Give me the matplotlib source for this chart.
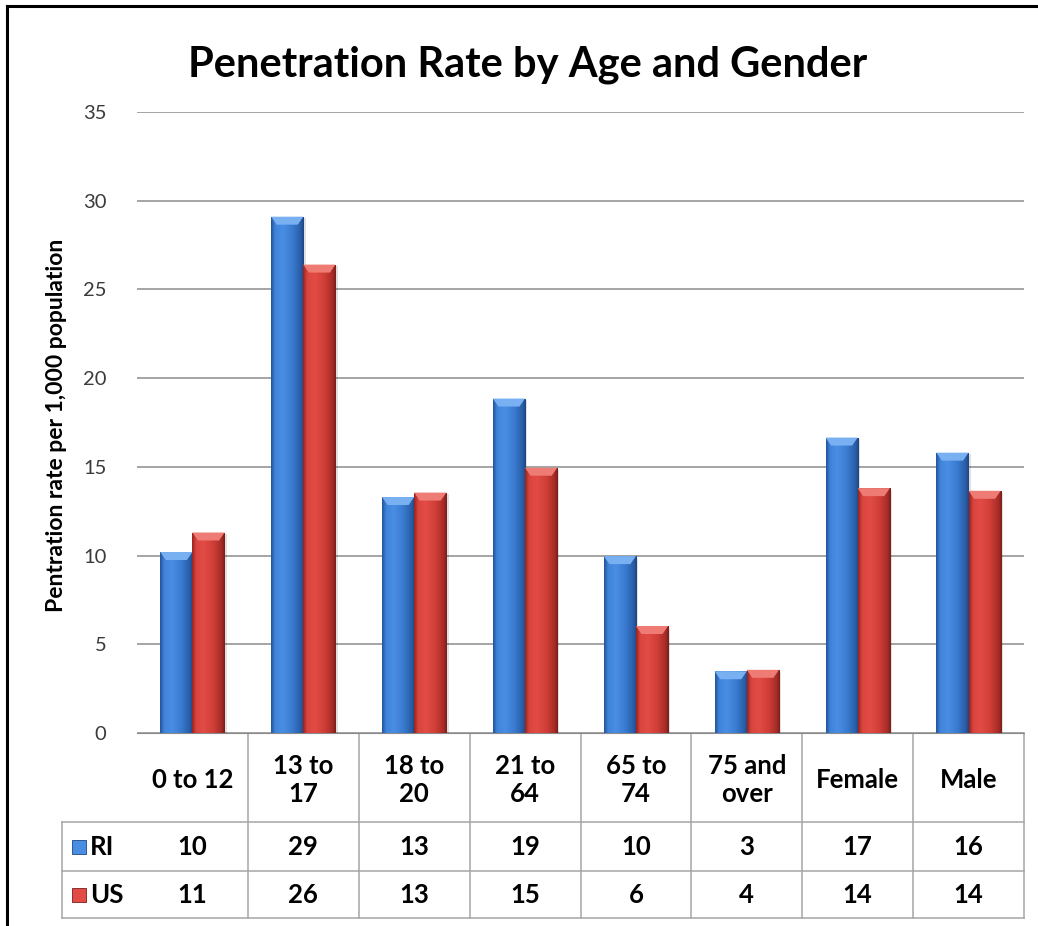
import numpy as np
import matplotlib
matplotlib.use('Agg')
import matplotlib.pyplot as plt
from matplotlib.patches import Polygon, Rectangle
from matplotlib.colors import to_rgb
import matplotlib.transforms as mtransforms

plt.rcParams['font.family'] = ['Lato', 'DejaVu Sans']

# data
categories = ['0 to 12', '13 to\n17', '18 to\n20', '21 to\n64', '65 to\n74', '75 and\nover', 'Female', 'Male']
ri_values = [10.2, 29.1, 13.3, 18.85, 9.97, 3.48, 16.65, 15.8]
us_values = [11.3, 26.4, 13.55, 14.95, 6.03, 3.56, 13.8, 13.65]
ri_table = ['10', '29', '13', '19', '10', '3', '17', '16']
us_table = ['11', '26', '13', '15', '6', '4', '14', '14']

W, H = 1038, 926
fig = plt.figure(figsize=(W / 100, H / 100), dpi=100)

# plot area in pixels
L, R, T, B = 137, 1024, 112, 733
ax = fig.add_axes([L / W, (H - B) / H, (R - L) / W, (B - T) / H])
ax.set_yticks(range(0, 36, 5))
ax.tick_params(axis='y', length=0, pad=22, labelsize=14.5, labelcolor='#3a3a3a')
ax.set_xticks([])
for s in ['top', 'right', 'left']:
    ax.spines[s].set_visible(False)
ax.spines['bottom'].set_color('#8a8a8a')
ax.yaxis.grid(True, color='#8c8c8c', linewidth=1.1)
ax.set_axisbelow(True)

fig.text(57 / W, (H - 425) / H, 'Pentration rate per 1,000 population', rotation=90,
         ha='center', va='center', fontsize=16.5, fontweight='bold')
fig.text(528 / W, (H - 76) / H, 'Penetration Rate by Age and Gender', ha='center',
         va='baseline', fontsize=30, fontweight='bold')

palettes = {
    'RI': ['#24549a', '#3f84da', '#4a8ee4', '#3a7bd0', '#2a5ea8', '#1f4580'],
    'US': ['#9a2420', '#d8443e', '#e24c45', '#d03e38', '#a82c28', '#7a1e1a'],
}
bevel = {'RI': '#78b0f2', 'US': '#ee7c74'}

x = np.arange(len(categories))
bw = 0.29
for name, vals, off in [('RI', ri_values, -0.145), ('US', us_values, 0.145)]:
    bars = ax.bar(x + off, vals, width=bw, color=palettes[name][2], zorder=3, linewidth=0)
    stops = np.array([to_rgb(c) for c in palettes[name]])
    pos = np.array([0, 0.12, 0.35, 0.65, 0.9, 1.0])
    t = np.linspace(0, 1, 64)
    grad = np.stack([np.interp(t, pos, stops[:, k]) for k in range(3)], axis=-1)[None, :, :]
    for b in bars:
        x0, w, h = b.get_x(), b.get_width(), b.get_height()
        # soft shadow
        ax.add_patch(Rectangle((x0 + 0.02, 0), w, h - 0.1, color='#000000', alpha=0.12,
                               zorder=2, linewidth=0))
        im = ax.imshow(grad, extent=(x0, x0 + w, 0, h), aspect='auto', zorder=4,
                       interpolation='bilinear')
        im.set_clip_path(b)
        d, hh = 0.05, 0.45
        ax.add_patch(Polygon([(x0, h), (x0 + w, h), (x0 + w - d, h - hh), (x0 + d, h - hh)],
                             closed=True, color=bevel[name], zorder=5, linewidth=0))

ax.set_xlim(-0.5, len(categories) - 0.5)
ax.set_ylim(0, 35)

# data table below the plot
tr = mtransforms.blended_transform_factory(ax.transData, fig.transFigure)
def fy(p):
    return (H - p) / H
def dx(p):
    return (p - L) / ((R - L) / len(categories)) - 0.5

line_kw = dict(color='#a6a6a6', linewidth=1.1, transform=tr, clip_on=False)
x_left = dx(62)
x_right = len(categories) - 0.5
for yp in [822, 871, 918]:
    ax.plot([x_left, x_right], [fy(yp), fy(yp)], **line_kw)
ax.plot([x_left, x_left], [fy(822), fy(918)], **line_kw)
for i in range(len(categories)):
    ax.plot([i + 0.5, i + 0.5], [fy(733), fy(918)], **line_kw)

for i, cat in enumerate(categories):
    ax.text(i, fy(780), cat, transform=tr, ha='center', va='center', fontsize=18.5,
            fontweight='bold', linespacing=1.2)
    ax.text(i, fy(847), ri_table[i], transform=tr, ha='center', va='center', fontsize=18.5,
            fontweight='bold')
    ax.text(i, fy(895), us_table[i], transform=tr, ha='center', va='center', fontsize=18.5,
            fontweight='bold')

for name, yp in [('RI', 847), ('US', 895)]:
    ax.add_patch(Rectangle((dx(72), fy(yp + 7)), dx(86) - dx(72), fy(yp - 7) - fy(yp + 7),
                           transform=tr, clip_on=False, facecolor=palettes[name][2],
                           edgecolor=palettes[name][5], linewidth=0.6))
    ax.text(dx(90), fy(yp), name, transform=tr, ha='left', va='center', fontsize=18.5,
            fontweight='bold')

# frame lines on left and top
fig.add_artist(plt.Line2D([7 / W, 7 / W], [0, fy(6)], color='black', linewidth=2.2))
fig.add_artist(plt.Line2D([7 / W, 1], [fy(6), fy(6)], color='black', linewidth=2.2))

fig.savefig('out.png', dpi=100)
